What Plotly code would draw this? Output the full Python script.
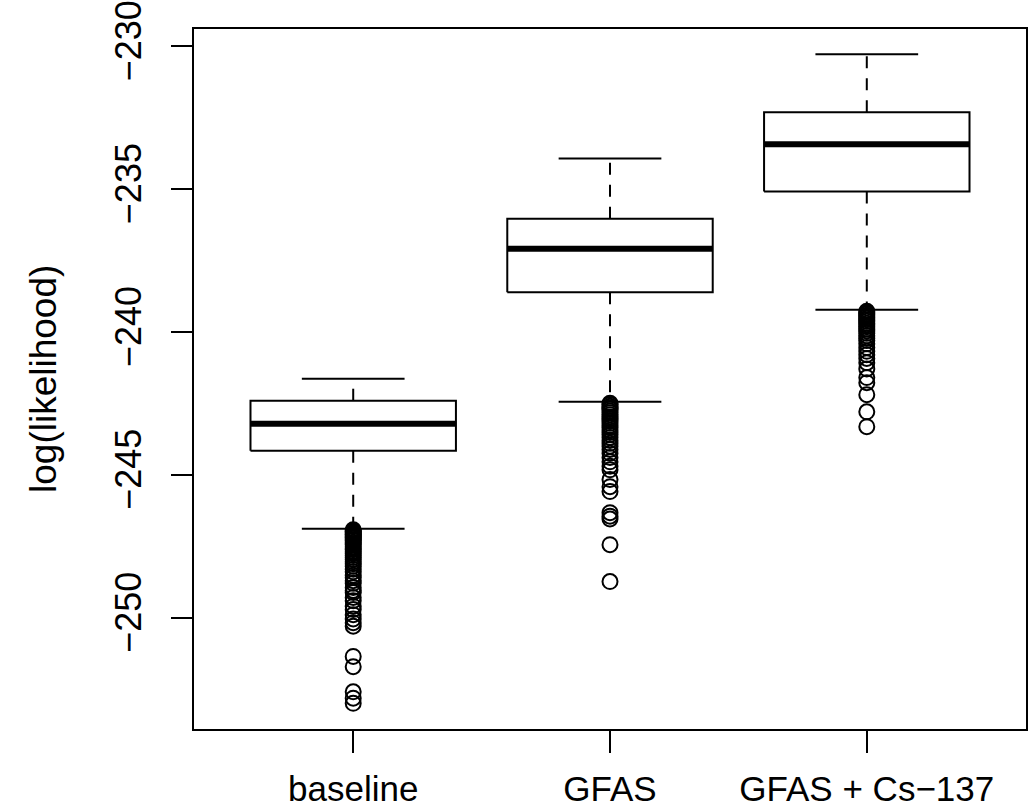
import plotly.graph_objects as go

categories = ["baseline", "GFAS", "GFAS + Cs\u2212137"]
q1 = [-244.16, -238.61, -235.09]
median = [-243.22, -237.09, -233.43]
q3 = [-242.41, -236.04, -232.31]
lower_whisker = [-246.89, -242.45, -239.23]
upper_whisker = [-241.64, -233.93, -230.28]

baseline_out = [-246.93, -246.97, -247.0, -247.04, -247.08, -247.1, -247.15, -247.19,
                -247.22, -247.27, -247.3, -247.36, -247.41, -247.45, -247.52, -247.58,
                -247.63, -247.7, -247.76, -247.83, -247.9, -247.97, -248.05, -248.12,
                -248.2, -248.31, -248.4, -248.52, -248.6, -248.71, -248.8, -248.95,
                -249.05, -249.12, -249.3, -249.41, -249.6, -249.72, -249.9, -250.05,
                -250.18, -250.3, -251.36, -251.72, -252.6, -252.82, -253.0]
gfas_out = [-242.5, -242.54, -242.6, -242.66, -242.7, -242.77, -242.83, -242.9,
            -242.98, -243.05, -243.12, -243.2, -243.28, -243.35, -243.44, -243.52,
            -243.6, -243.7, -243.8, -243.9, -244.0, -244.12, -244.25, -244.4,
            -244.55, -244.7, -244.83, -245.17, -245.42, -245.59, -246.33, -246.45,
            -246.55, -247.45, -248.74]
cs_out = [-239.28, -239.32, -239.37, -239.42, -239.47, -239.52, -239.58, -239.63,
          -239.7, -239.76, -239.82, -239.9, -239.97, -240.05, -240.14, -240.22,
          -240.3, -240.42, -240.55, -240.68, -240.8, -240.93, -241.08, -241.3,
          -241.6, -241.78, -242.2, -242.8, -243.32]
outliers = [baseline_out, gfas_out, cs_out]

yticks = [-250, -245, -240, -235, -230]

FONT = "Liberation Sans, Arial, Helvetica, sans-serif"
BOX_HALF = 0.4
CAP_HALF = 0.2

fig = go.Figure()
for i, cat in enumerate(categories):
    p = i + 1
    # box
    fig.add_trace(go.Scatter(
        x=[p - BOX_HALF, p + BOX_HALF, p + BOX_HALF, p - BOX_HALF, p - BOX_HALF],
        y=[q1[i], q1[i], q3[i], q3[i], q1[i]],
        mode="lines", fill="toself", fillcolor="white",
        line=dict(color="black", width=2), hoverinfo="skip", showlegend=False))
    # whiskers (dashed)
    fig.add_trace(go.Scatter(
        x=[p, p, None, p, p],
        y=[q3[i], upper_whisker[i], None, q1[i], lower_whisker[i]],
        mode="lines", line=dict(color="black", width=2, dash="12px,10px"),
        hoverinfo="skip", showlegend=False))
    # caps
    fig.add_trace(go.Scatter(
        x=[p - CAP_HALF, p + CAP_HALF, None, p - CAP_HALF, p + CAP_HALF],
        y=[upper_whisker[i], upper_whisker[i], None, lower_whisker[i], lower_whisker[i]],
        mode="lines", line=dict(color="black", width=2),
        hoverinfo="skip", showlegend=False))
    # median
    fig.add_trace(go.Scatter(
        x=[p - BOX_HALF, p + BOX_HALF], y=[median[i], median[i]],
        mode="lines", line=dict(color="black", width=6),
        hoverinfo="skip", showlegend=False))
    # outliers
    fig.add_trace(go.Scatter(
        x=[p] * len(outliers[i]), y=outliers[i], mode="markers",
        marker=dict(symbol="circle-open", size=15, color="black", line=dict(width=2)),
        name=cat, showlegend=False))

fig.update_layout(
    width=1031, height=812,
    margin=dict(l=194, r=5, t=29, b=83),
    paper_bgcolor="white", plot_bgcolor="white",
    font=dict(family=FONT, size=36, color="black"),
    showlegend=False,
    xaxis=dict(range=[0.38, 3.62], tickvals=[1, 2, 3], ticktext=categories,
               automargin=False,
               showgrid=False, zeroline=False, showline=True, mirror=True,
               linecolor="black", linewidth=2, ticks="outside", ticklen=22,
               tickwidth=2, tickcolor="black", ticklabelstandoff=6,
               tickfont=dict(size=35)),
    yaxis=dict(range=[-253.9, -229.4], tickvals=yticks, automargin=False,
               showgrid=False, zeroline=False, showline=True, mirror=True,
               linecolor="black", linewidth=2, ticks="outside", ticklen=21,
               tickwidth=2, tickcolor="black", tickangle=-90, ticklabelstandoff=16,
               tickfont=dict(size=36)),
    annotations=[dict(text="log(likelihood)", xref="paper", yref="paper",
                      x=(43 - 194) / 832, y=0.5, xanchor="center", yanchor="middle",
                      textangle=-90, showarrow=False, font=dict(size=37))],
)

fig.write_html("out.html", config={"displayModeBar": False},
               post_script="document.body.style.margin='0';")
